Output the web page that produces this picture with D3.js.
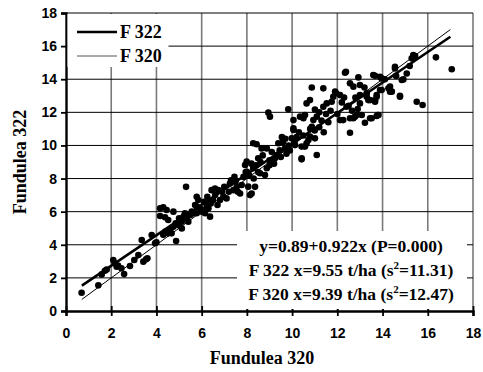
<!DOCTYPE html>
<html>
<head>
<meta charset="utf-8">
<script src="https://cdn.jsdelivr.net/npm/d3@7"></script>
<style>
  body { margin: 0; background: #fff; }
  svg { display: block; }
</style>
</head>
<body>
<div id="chart"></div>
<script>
// yields, t/ha: Fundulea 320 (x) against Fundulea 322 (y)
const f320 = [
  0.69, 1.43, 1.58, 1.72, 1.80, 2.09, 2.15, 2.24, 2.30, 2.45, 2.57, 2.83, 3.02, 3.20, 3.35, 3.42, 3.54, 3.60, 3.79, 3.94, 4.00,
  4.16, 4.30, 4.16, 4.38, 4.45, 4.52, 4.75, 4.52, 4.67, 4.87, 4.75, 4.97, 5.12, 5.12, 5.31, 5.26, 5.41, 5.56, 5.71, 5.78, 5.85, 5.78, 5.93, 4.60, 4.85, 5.00, 5.20, 5.35, 5.50, 5.65, 5.80, 4.40, 4.30,
  6.07, 6.22, 6.37, 6.44, 6.59, 6.74, 6.81, 6.96, 7.25, 7.40, 7.55, 6.10, 6.25, 6.30, 6.50, 6.60, 6.70, 6.90, 7.00, 7.10, 7.20, 7.30, 7.50, 7.60, 7.70, 7.77, 7.92, 7.99, 8.06, 8.14, 8.36, 7.85, 7.95, 6.00, 6.15, 6.40, 7.45, 8.21, 8.00,
  8.28, 8.43, 8.65, 8.88, 9.39, 9.69, 8.28, 8.50, 8.58, 8.88, 8.80, 9.24, 9.32, 9.02, 8.95, 9.83, 8.20, 8.40, 8.60, 8.70, 9.00, 9.10, 9.20, 9.45, 9.50, 9.60, 9.75, 9.85, 9.90, 8.10, 8.30, 8.50, 9.00, 9.55, 9.70, 9.98,
  10.06, 10.42, 10.50, 10.64, 11.01, 10.87, 11.38, 10.42, 11.75, 11.38, 11.09, 10.79, 10.57, 10.06, 10.06, 10.42, 10.72, 11.09, 10.64, 11.01, 11.53, 11.82, 11.90, 10.35, 10.94, 10.87, 10.79, 10.57, 10.20, 10.30, 10.50, 10.80, 11.20, 11.30, 11.50, 11.60, 11.20, 11.70, 11.95, 10.10, 11.40, 11.00, 10.13,
  12.56, 12.38, 12.93, 13.59, 12.56, 12.78, 13.22, 13.45, 13.74, 13.67, 13.37, 13.30, 13.00, 12.41, 13.00, 12.12, 12.12, 12.86, 12.34, 13.89, 12.56, 12.71, 13.00, 13.30, 13.45, 13.74, 13.96, 12.26, 12.71, 13.08, 13.52, 13.82, 13.67, 13.96, 13.74, 13.67, 13.89, 13.78, 12.20, 12.50, 12.80, 12.30, 12.90, 13.20, 12.00, 12.65,
  14.26, 14.33, 14.55, 14.85, 14.77, 15.51, 15.77, 15.36, 16.36, 17.06, 14.33, 15.44, 15.29, 15.07, 14.92, 14.41, 14.77, 14.55, 14.10, 14.60, 15.20
];
const f322 = [
  1.10, 1.55, 2.21, 2.43, 2.50, 3.08, 2.90, 2.68, 2.75, 2.58, 2.23, 2.72, 3.08, 3.38, 4.29, 2.98, 3.12, 3.18, 4.59, 4.09, 4.15,
  6.20, 6.26, 5.74, 5.66, 6.10, 5.50, 6.00, 4.69, 4.69, 4.23, 5.09, 5.19, 5.39, 4.99, 7.50, 5.90, 5.39, 6.00, 6.40, 6.90, 6.70, 5.90, 6.20, 4.90, 5.30, 5.60, 5.70, 5.60, 5.80, 5.90, 6.30, 4.80, 4.60,
  6.10, 6.40, 5.70, 7.30, 7.40, 7.30, 6.70, 6.90, 7.70, 7.30, 7.50, 6.60, 6.90, 6.20, 6.70, 7.00, 6.40, 7.20, 7.50, 6.80, 7.20, 7.90, 7.80, 7.20, 7.10, 7.61, 8.82, 9.02, 7.51, 7.00, 7.50, 8.10, 8.40, 6.00, 5.90, 6.50, 8.10, 7.10, 8.41,
  10.13, 10.07, 9.82, 9.82, 10.13, 9.82, 8.62, 9.22, 8.32, 8.62, 8.21, 9.22, 9.42, 11.74, 11.98, 12.18, 8.90, 8.80, 9.00, 9.40, 9.10, 9.60, 8.90, 9.70, 9.30, 10.20, 9.50, 10.00, 9.70, 8.20, 8.00, 8.40, 8.80, 10.50, 10.40, 10.43,
  10.93, 9.22, 11.64, 10.13, 10.43, 13.50, 13.45, 9.16, 12.64, 12.34, 11.74, 12.74, 11.84, 11.53, 11.03, 9.93, 10.33, 9.42, 12.54, 12.17, 12.54, 12.94, 13.25, 11.74, 11.53, 11.13, 10.53, 9.93, 10.50, 10.80, 10.60, 11.00, 11.10, 11.50, 11.90, 11.40, 12.00, 12.10, 13.15, 10.20, 10.80, 10.90, 10.02,
  10.77, 14.45, 14.11, 14.25, 11.64, 11.74, 11.37, 11.64, 11.78, 12.74, 12.74, 13.15, 12.54, 12.34, 13.65, 13.04, 11.53, 11.84, 14.39, 14.15, 13.75, 13.55, 13.04, 12.94, 12.74, 12.94, 13.35, 11.53, 11.64, 11.84, 11.64, 11.84, 14.21, 14.05, 13.04, 12.64, 13.35, 11.84, 12.60, 12.40, 12.90, 12.90, 12.20, 13.50, 11.90, 12.10,
  13.45, 13.25, 14.75, 13.95, 12.94, 12.64, 12.44, 15.46, 15.32, 14.60, 13.55, 15.40, 15.26, 14.35, 13.99, 13.25, 13.00, 14.65, 14.00, 14.20, 14.80
];
const axisTicks = [0, 2, 4, 6, 8, 10, 12, 14, 16, 18];
const fitLines = [
  { name: "F 322", a: 0.89, b: 0.922, width: 2.6 },
  { name: "F 320", a: 0, b: 1, width: 1 }
];
const fitRange = [0.7, 17];
const statLines = [
  ["y=0.89+0.922x (P=0.000)"],
  ["F 322 x=9.55 t/ha (s", "2", "=11.31)"],
  ["F 320 x=9.39 t/ha (s", "2", "=12.47)"]
];

const W = 483, H = 372;
const M = { left: 66, right: 473, top: 13, bottom: 311 };
const sans = "'Liberation Sans', Arial, sans-serif";
const serif = "'Liberation Serif', 'Times New Roman', serif";

const svg = d3.select("#chart").append("svg")
    .attr("width", W).attr("height", H);

const x = d3.scaleLinear().domain([0, 18]).range([M.left, M.right]);
const y = d3.scaleLinear().domain([0, 18]).range([M.bottom, M.top]);

// grid: vertical grey, horizontal black
svg.append("g").selectAll("line")
  .data(axisTicks.slice(1))
  .join("line")
    .attr("x1", d => x(d)).attr("x2", d => x(d))
    .attr("y1", M.top).attr("y2", M.bottom)
    .attr("stroke", "#7a7a7a").attr("stroke-width", 1.6);
svg.append("g").selectAll("line")
  .data(axisTicks.slice(1))
  .join("line")
    .attr("x1", M.left).attr("x2", M.right)
    .attr("y1", d => y(d)).attr("y2", d => y(d))
    .attr("stroke", "#000").attr("stroke-width", 1);

// axes
const yAxis = svg.append("g")
    .attr("transform", `translate(${M.left},0)`)
    .call(d3.axisLeft(y).tickValues(axisTicks).tickSize(5).tickPadding(4));
const xAxis = svg.append("g")
    .attr("transform", `translate(0,${M.bottom})`)
    .call(d3.axisBottom(x).tickValues(axisTicks).tickSize(5).tickPadding(12));
for (const g of [xAxis, yAxis]) {
  g.select(".domain").attr("stroke", "#000").attr("stroke-width", 2.4);
  g.selectAll(".tick line").attr("stroke", "#000").attr("stroke-width", 1.8);
  g.selectAll(".tick text")
    .attr("fill", "#000")
    .style("font-family", sans).style("font-weight", "bold").style("font-size", "14px");
}
// bottom ticks cross the axis
xAxis.selectAll(".tick line").attr("y1", -5);
xAxis.selectAll(".tick text").attr("dy", "0.71em");

// points
svg.append("g").selectAll("circle")
  .data(d3.range(f320.length))
  .join("circle")
    .attr("cx", i => x(f320[i]))
    .attr("cy", i => y(f322[i]))
    .attr("r", 3.3)
    .attr("fill", "#000");

// fitted and 1:1 lines
svg.append("g").selectAll("line")
  .data(fitLines)
  .join("line")
    .attr("x1", x(fitRange[0])).attr("x2", x(fitRange[1]))
    .attr("y1", d => y(d.a + d.b * fitRange[0]))
    .attr("y2", d => y(d.a + d.b * fitRange[1]))
    .attr("stroke", "#000")
    .attr("stroke-width", d => d.width);

// legend
const legend = svg.append("g");
legend.append("rect")
    .attr("x", M.left + 1.5).attr("y", M.top + 1).attr("width", 101).attr("height", 53)
    .attr("fill", "#fff");
const item = legend.selectAll("g")
  .data(fitLines)
  .join("g")
    .attr("transform", (d, i) => `translate(77,${32 + i * 24})`);
item.append("line")
    .attr("x1", 0).attr("x2", 40)
    .attr("stroke", (d, i) => i ? "#555" : "#000")
    .attr("stroke-width", d => d.width);
item.append("text")
    .attr("x", 43).attr("y", 6)
    .style("font-family", serif).style("font-weight", "bold").style("font-size", "18px")
    .text(d => d.name);

// statistics box
const stats = svg.append("g");
stats.append("rect")
    .attr("x", 237).attr("y", 231).attr("width", 230).attr("height", 78)
    .attr("fill", "#fff");
const st = stats.selectAll("text")
  .data(statLines)
  .join("text")
    .attr("x", 351)
    .attr("y", (d, i) => 252 + i * 23.8)
    .attr("text-anchor", "middle")
    .style("font-family", serif).style("font-weight", "bold").style("font-size", "17.5px");
st.each(function (parts) {
  const t = d3.select(this);
  parts.forEach((p, k) => {
    const span = t.append("tspan").text(p);
    if (k === 1) span.attr("dy", -7).style("font-size", "11px");
    if (k === 2) span.attr("dy", 7);
  });
});

// axis titles
svg.append("text")
    .attr("x", 262).attr("y", 364)
    .attr("text-anchor", "middle")
    .style("font-family", serif).style("font-weight", "bold").style("font-size", "18px")
    .text("Fundulea 320");
svg.append("text")
    .attr("transform", "translate(26,162) rotate(-90)")
    .attr("text-anchor", "middle")
    .style("font-family", serif).style("font-weight", "bold").style("font-size", "18px")
    .text("Fundulea 322");
</script>
</body>
</html>
